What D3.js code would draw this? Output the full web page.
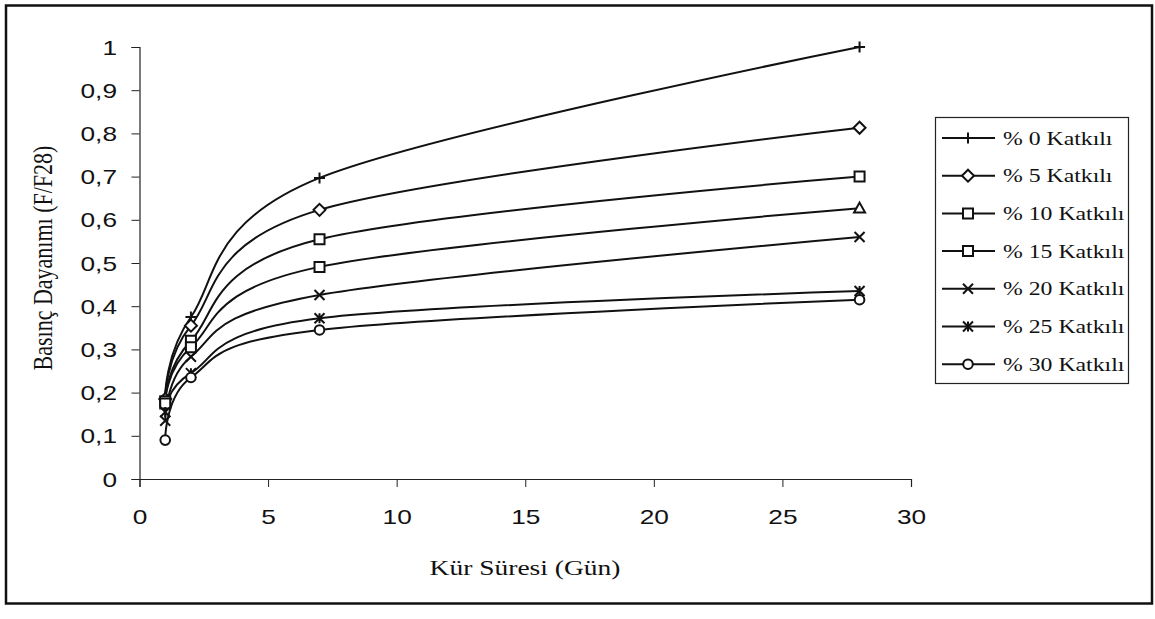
<!DOCTYPE html>
<html><head><meta charset="utf-8">
<script src="https://cdn.jsdelivr.net/npm/d3@7"></script>
<style>body{margin:0;background:#fff}svg{display:block}</style>
</head><body>
<svg id="c" width="1155" height="619"></svg>
<script>
// ---- data ----
const days = [1, 2, 7, 28];
const seriesNames = ["% 0 Katkılı", "% 5 Katkılı", "% 10 Katkılı", "% 15 Katkılı", "% 20 Katkılı", "% 25 Katkılı", "% 30 Katkılı"];
const v0  = [0.19, 0.375, 0.697, 1.0];
const v5  = [0.185, 0.355, 0.623, 0.813];
const v10 = [0.18, 0.32, 0.555, 0.70];
const v15 = [0.175, 0.305, 0.491, 0.627];
const v20 = [0.135, 0.283, 0.426, 0.56];
const v25 = [0.155, 0.245, 0.372, 0.435];
const v30 = [0.09, 0.235, 0.345, 0.415];
const seriesValues = [v0, v5, v10, v15, v20, v25, v30];
const xTickValues = [0, 5, 10, 15, 20, 25, 30];
const yTickValues = [0, 0.1, 0.2, 0.3, 0.4, 0.5, 0.6, 0.7, 0.8, 0.9, 1];
const yTickLabels = ["0", "0,1", "0,2", "0,3", "0,4", "0,5", "0,6", "0,7", "0,8", "0,9", "1"];
const xTitle = "Kür Süresi (Gün)";
const yTitle = "Basınç Dayanımı (F/F28)";

// ---- style ----
const legendSymbols = ["plus", "diamond", "square", "square", "x", "asterisk", "circle"];
const pointSymbols = [
  ["plus","plus","plus","plus"],
  ["diamond","diamond","diamond","diamond"],
  ["square","square","square","square"],
  ["square","square","square","triangle"],
  ["x","x","x","x"],
  ["asterisk","asterisk","asterisk","asterisk"],
  ["circle","circle","circle","circle"]
];
const SX = 1.25; // horizontal stretch of the scanned original

const svg = d3.select("#c");
const x = d3.scaleLinear().domain([0, 30]).range([139.5, 911]);
const y = d3.scaleLinear().domain([0, 1]).range([479, 47]);

// outer frame
svg.append("rect").attr("x", 6).attr("y", 5.5).attr("width", 1146).attr("height", 598)
  .attr("fill", "none").attr("stroke", "#111").attr("stroke-width", 2.5);

// axes
const axisColor = "#222";
const xAxis = svg.append("g").attr("transform", `translate(0,${y(0)})`)
  .call(d3.axisBottom(x).tickValues(xTickValues).tickSize(8).tickPadding(0).tickFormat(d3.format("d")));
const yAxis = svg.append("g").attr("transform", `translate(${x(0)},0)`)
  .call(d3.axisLeft(y).tickValues(yTickValues).tickSize(8).tickFormat((d, i) => yTickLabels[i]));
[xAxis, yAxis].forEach(a => {
  a.select(".domain").attr("stroke", axisColor).attr("stroke-width", 1.2);
  a.selectAll(".tick line").attr("stroke", axisColor).attr("stroke-width", 1);
  a.selectAll("text").attr("font-family", "'Liberation Sans', Arial, sans-serif")
    .attr("font-size", 21).attr("fill", "#111");
});
xAxis.selectAll(".tick text").attr("dy", null).attr("y", 45).attr("transform", `scale(${SX},1)`);
yAxis.selectAll(".tick text").attr("x", -18).attr("dy", "0.34em").attr("transform", `scale(${SX},1)`);

// titles
svg.append("text").attr("transform", `translate(525,575) scale(${SX},1)`)
  .attr("text-anchor", "middle").attr("font-family", "'Liberation Serif', 'Times New Roman', serif")
  .attr("font-size", 22).attr("fill", "#111").text(xTitle);
svg.append("text").attr("transform", `translate(52,258) rotate(-90) scale(1,${SX})`)
  .attr("text-anchor", "middle").attr("font-family", "'Liberation Serif', 'Times New Roman', serif")
  .attr("font-size", 22).attr("fill", "#111").text(yTitle);

// symbol paths
function sym(type, r) {
  switch (type) {
    case "plus": return `M${-r},0H${r}M0,${-r}V${r}`;
    case "x": return `M${-r},${-r}L${r},${r}M${-r},${r}L${r},${-r}`;
    case "asterisk": return `M${-r},${-r}L${r},${r}M${-r},${r}L${r},${-r}M0,${-r}V${r}`;
    case "diamond": return `M0,${-r}L${r},0L0,${r}L${-r},0Z`;
    case "square": return `M${-r},${-r}H${r}V${r}H${-r}Z`;
    case "triangle": return `M0,${-r}L${r},${r * 0.8}H${-r}Z`;
    case "circle": return d3.arc()({innerRadius: 0, outerRadius: r, startAngle: 0, endAngle: 2 * Math.PI});
  }
}
const symR = {plus: 5.5, x: 5, asterisk: 5, diamond: 6, square: 5, triangle: 5.5, circle: 4.8};
const filled = t => ["diamond", "square", "triangle", "circle"].includes(t);

function drawSymbol(g, type, cx, cy) {
  g.append("path").attr("d", sym(type, symR[type])).attr("transform", `translate(${cx},${cy})`)
    .attr("fill", filled(type) ? "#fff" : "none").attr("stroke", "#111").attr("stroke-width", 2);
}

// series lines (Excel-style smoothing = uniform Catmull-Rom)
const line = d3.line().x(d => x(d[0])).y(d => y(d[1])).curve(d3.curveCatmullRom.alpha(0));
const plot = svg.append("g");
seriesValues.forEach((vals, si) => {
  const pts = days.map((d, i) => [d, vals[i]]);
  plot.append("path").attr("d", line(pts)).attr("fill", "none").attr("stroke", "#111").attr("stroke-width", 2);
});
seriesValues.forEach((vals, si) => {
  days.forEach((d, i) => drawSymbol(plot, pointSymbols[si][i], x(d), y(vals[i])));
});

// legend
const lg = svg.append("g");
lg.append("rect").attr("x", 935.5).attr("y", 117.5).attr("width", 193).attr("height", 266)
  .attr("fill", "#fff").attr("stroke", "#222").attr("stroke-width", 1.2);
seriesNames.forEach((name, i) => {
  const cy = 138 + i * 37.7;
  lg.append("line").attr("x1", 942).attr("x2", 995).attr("y1", cy).attr("y2", cy)
    .attr("stroke", "#111").attr("stroke-width", 2);
  drawSymbol(lg, legendSymbols[i], 968, cy);
  lg.append("text").attr("transform", `translate(1003,${cy + 6.5}) scale(${SX},1)`)
    .attr("font-family", "'Liberation Serif', 'Times New Roman', serif").attr("font-size", 19)
    .attr("fill", "#111").text(name);
});
</script>
</body></html>
